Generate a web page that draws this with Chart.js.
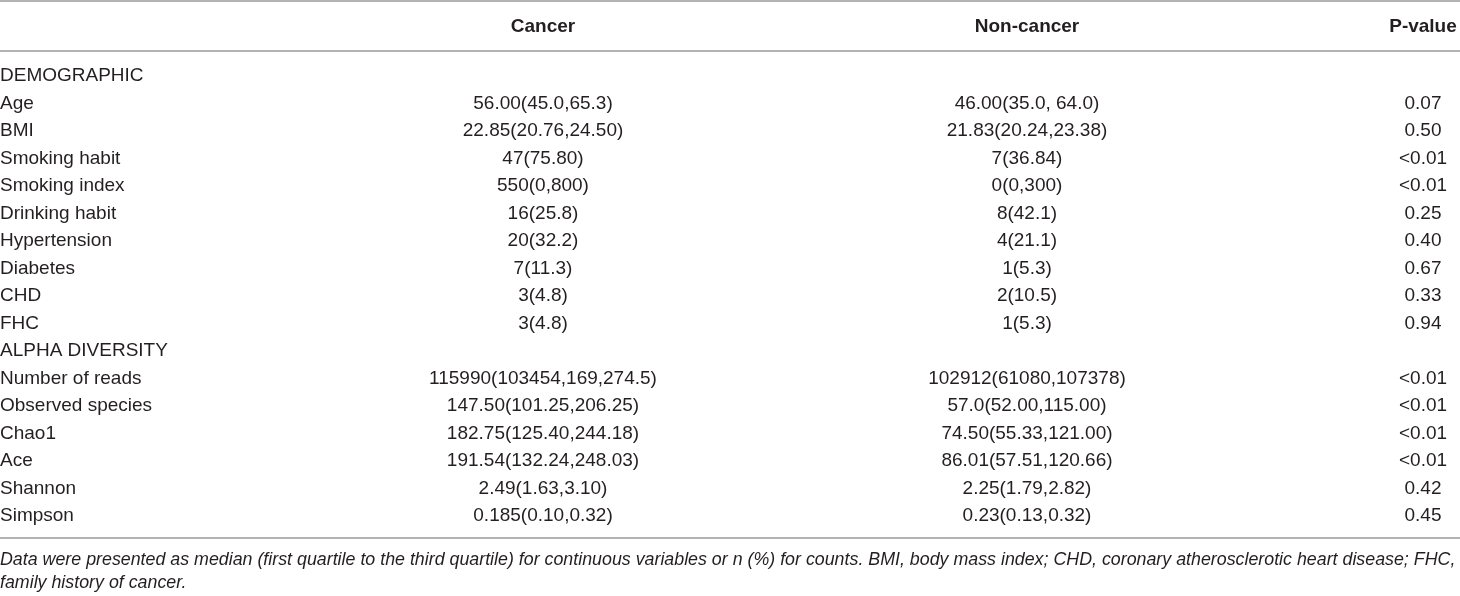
<!DOCTYPE html>
<html>
<head>
<meta charset="utf-8">
<title>Cancer vs Non-cancer</title>
<script src="https://cdn.jsdelivr.net/npm/chart.js@4.4.1/dist/chart.umd.min.js"></script>
<style>
  html, body { margin: 0; padding: 0; background: #ffffff; }
  #wrap { width: 1460px; height: 596px; }
</style>
</head>
<body>
<div id="wrap"><canvas id="tableChart" width="1460" height="596"></canvas></div>
<script>
// Table content
const columnHeaders = ['', 'Cancer', 'Non-cancer', 'P-value'];
const rowLabels = [
    'DEMOGRAPHIC', 'Age', 'BMI', 'Smoking habit', 'Smoking index', 'Drinking habit',
    'Hypertension', 'Diabetes', 'CHD', 'FHC', 'ALPHA DIVERSITY', 'Number of reads',
    'Observed species', 'Chao1', 'Ace', 'Shannon', 'Simpson'
];
const cancerValues = [
    '', '56.00(45.0,65.3)', '22.85(20.76,24.50)', '47(75.80)', '550(0,800)', '16(25.8)',
    '20(32.2)', '7(11.3)', '3(4.8)', '3(4.8)', '', '115990(103454,169,274.5)',
    '147.50(101.25,206.25)', '182.75(125.40,244.18)', '191.54(132.24,248.03)', '2.49(1.63,3.10)', '0.185(0.10,0.32)'
];
const nonCancerValues = [
    '', '46.00(35.0, 64.0)', '21.83(20.24,23.38)', '7(36.84)', '0(0,300)', '8(42.1)',
    '4(21.1)', '1(5.3)', '2(10.5)', '1(5.3)', '', '102912(61080,107378)',
    '57.0(52.00,115.00)', '74.50(55.33,121.00)', '86.01(57.51,120.66)', '2.25(1.79,2.82)', '0.23(0.13,0.32)'
];
const pValues = [
    '', '0.07', '0.50', '<0.01', '<0.01', '0.25',
    '0.40', '0.67', '0.33', '0.94', '', '<0.01',
    '<0.01', '<0.01', '<0.01', '0.42', '0.45'
];
const footnoteLines = [
    'Data were presented as median (first quartile to the third quartile) for continuous variables or n (%) for counts. BMI, body mass index; CHD, coronary atherosclerotic heart disease; FHC,',
    'family history of cancer.'
];

// Layout (x positions on a 0..1460 linear scale)
const columnX = [0, 543, 1027, 1423];
const FONT = "'Liberation Sans', Arial, Helvetica, sans-serif";
const TEXT_COLOR = '#231f20';
const RULE_COLOR = '#9a9a9a';

const tablePlugin = {
    id: 'tableText',
    afterDraw(chart) {
        const ctx = chart.ctx;
        const x = chart.scales.x;
        const y = chart.scales.y;
        const area = chart.chartArea;
        const rowStep = y.getPixelForValue(1) - y.getPixelForValue(0);

        ctx.save();
        ctx.textBaseline = 'middle';
        ctx.fillStyle = TEXT_COLOR;

        // Rules
        ctx.strokeStyle = RULE_COLOR;
        ctx.lineWidth = 1.5;
        const headerY = area.top - 49;
        const rules = [1, area.top - 25, y.getPixelForValue(rowLabels.length - 1) + 22];
        rules.forEach(r => {
            ctx.beginPath();
            ctx.moveTo(0, r);
            ctx.lineTo(chart.width, r);
            ctx.stroke();
        });

        // Header
        ctx.font = 'bold 19px ' + FONT;
        ctx.textAlign = 'center';
        for (let c = 1; c < columnHeaders.length; c++) {
            ctx.fillText(columnHeaders[c], x.getPixelForValue(columnX[c]), headerY);
        }

        // Body
        ctx.font = '19px ' + FONT;
        rowLabels.forEach((label, i) => {
            const py = y.getPixelForValue(i);
            ctx.textAlign = 'left';
            ctx.fillText(label, x.getPixelForValue(columnX[0]), py);
            ctx.textAlign = 'center';
            ctx.fillText(cancerValues[i], x.getPixelForValue(columnX[1]), py);
            ctx.fillText(nonCancerValues[i], x.getPixelForValue(columnX[2]), py);
            ctx.fillText(pValues[i], x.getPixelForValue(columnX[3]), py);
        });

        // Footnote, sized to span the full width
        ctx.font = 'italic 100px ' + FONT;
        const w = ctx.measureText(footnoteLines[0]).width;
        const size = Math.min(18, 100 * 1456 / w);
        ctx.font = 'italic ' + size.toFixed(2) + 'px ' + FONT;
        ctx.textAlign = 'left';
        const footY = y.getPixelForValue(rowLabels.length - 1) + 44;
        footnoteLines.forEach((line, i) => {
            ctx.fillText(line, 0, footY + i * 23);
        });
        ctx.restore();
    }
};

new Chart(document.getElementById('tableChart'), {
    type: 'scatter',
    data: { labels: rowLabels, datasets: [] },
    options: {
        responsive: false,
        animation: false,
        layout: { padding: { top: 76, bottom: 80, left: 0, right: 0 } },
        plugins: { legend: { display: false }, tooltip: { enabled: false } },
        scales: {
            x: { type: 'linear', min: 0, max: 1460, display: false },
            y: { type: 'category', labels: rowLabels, offset: false, display: false }
        }
    },
    plugins: [tablePlugin]
});
</script>
</body>
</html>
